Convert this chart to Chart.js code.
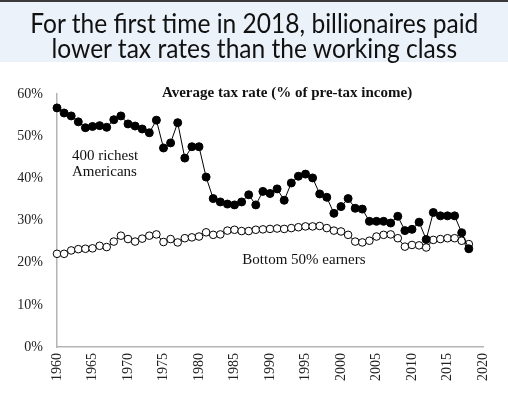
<!DOCTYPE html>
<html>
<head>
<meta charset="utf-8">
<script src="https://cdn.jsdelivr.net/npm/chart.js@4/dist/chart.umd.min.js"></script>
<style>
  body { margin: 0; background: #fff; }
  #wrap { width: 508px; height: 393px; position: relative; overflow: hidden; }
  .bar { height: 2px; background: #3a3a3a; }
  .band {
    height: 52px; padding-top: 8px; background: #ebf2fa;
    text-align: center; white-space: nowrap;
  }
  .band span {
    display: inline-block; transform: scaleX(0.91); transform-origin: center;
    font-family: Lato, sans-serif; font-size: 27px; line-height: 25px; color: #111;
  }
  #box { width: 508px; height: 331px; }
</style>
</head>
<body>
<div id="wrap">
  <div class="bar"></div>
  <div class="band"><span>For the first time in 2018, billionaires paid<br>lower tax rates than the working class</span></div>
  <div id="box"><canvas id="c"></canvas></div>
</div>
<script>
const years = []
for (let y = 1960; y <= 2018; y++) years.push(y)

const richest400 = [
  56.7, 55.5, 54.8, 53.4, 52.0, 52.3, 52.5, 52.1, 53.9, 54.8,
  52.9, 52.4, 51.7, 50.8, 53.8, 47.2, 48.4, 53.2, 44.8, 47.5,
  47.5, 40.3, 35.2, 34.4, 33.9, 33.7, 34.4, 36.1, 33.7, 36.9,
  36.4, 37.5, 34.8, 38.9, 40.5, 41.0, 40.1, 36.3, 35.5, 31.7,
  33.3, 35.2, 32.9, 32.7, 29.8, 29.8, 29.8, 29.4, 31.0, 27.6,
  27.9, 29.6, 25.5, 31.9, 31.1, 31.1, 31.1, 27.1, 23.3
]

const bottom50 = [
  22.1, 22.1, 22.9, 23.2, 23.3, 23.4, 24.0, 23.7, 25.0, 26.4,
  25.6, 25.0, 25.7, 26.4, 26.7, 24.9, 25.6, 24.8, 25.8, 26.0,
  26.2, 27.2, 26.6, 26.7, 27.6, 27.8, 27.5, 27.5, 27.8, 27.9,
  28.0, 28.1, 28.0, 28.2, 28.4, 28.6, 28.6, 28.7, 28.2, 27.6,
  27.4, 26.6, 25.0, 24.8, 25.2, 26.2, 26.6, 26.7, 25.8, 23.8,
  24.2, 24.1, 23.6, 25.4, 25.6, 25.8, 25.8, 25.2, 24.4
]

const axisTitle = 'Average tax rate (% of pre-tax income)'
const richLabel = ['400 richest', 'Americans']
const bottomLabel = 'Bottom 50% earners'

const serif = '"Liberation Serif", "DejaVu Serif", serif'

// text written inside the plot, placed with the scales
const textLabels = {
  id: 'textLabels',
  afterDatasetsDraw(chart) {
    const { ctx, scales: { x, y } } = chart
    ctx.save()
    ctx.fillStyle = '#111'
    ctx.textBaseline = 'middle'

    ctx.font = 'bold 15px ' + serif
    ctx.textAlign = 'center'
    ctx.fillText(axisTitle, x.getPixelForValue(1992.4), y.getPixelForValue(60.3))

    ctx.font = '15px ' + serif
    ctx.textAlign = 'left'
    ctx.fillText(richLabel[0], x.getPixelForValue(1962.1), y.getPixelForValue(45.2))
    ctx.fillText(richLabel[1], x.getPixelForValue(1962.1), y.getPixelForValue(41.5))
    ctx.fillText(bottomLabel, x.getPixelForValue(1986.1), y.getPixelForValue(20.5))
    ctx.restore()
  }
}

new Chart(document.getElementById('c'), {
  type: 'line',
  data: {
    datasets: [{
      label: '400 richest Americans',
      data: years.map((yr, i) => ({ x: yr, y: richest400[i] })),
      borderColor: '#000',
      backgroundColor: '#000',
      borderWidth: 1,
      pointRadius: 4,
      pointBorderWidth: 1,
      pointBorderColor: '#000',
      pointBackgroundColor: '#000',
      tension: 0,
      clip: false
    }, {
      label: 'Bottom 50% earners',
      data: years.map((yr, i) => ({ x: yr, y: bottom50[i] })),
      borderColor: '#000',
      borderWidth: 1,
      pointRadius: 3.8,
      pointBorderWidth: 1,
      pointBorderColor: '#000',
      pointBackgroundColor: '#fff',
      tension: 0,
      clip: false
    }]
  },
  options: {
    responsive: true,
    maintainAspectRatio: false,
    animation: false,
    layout: { padding: { top: 32, right: 25, left: 0, bottom: 0 } },
    plugins: {
      legend: { display: false },
      tooltip: { enabled: false }
    },
    scales: {
      x: {
        type: 'linear',
        min: 1960,
        max: 2020,
        grid: { display: false, drawTicks: false },
        border: { display: true, color: '#b4b4b4', width: 1.5 },
        ticks: {
          stepSize: 5,
          autoSkip: false,
          maxRotation: 90,
          minRotation: 90,
          padding: 6,
          color: '#222',
          font: { family: serif, size: 14 },
          callback: v => String(v)
        },
        afterFit: s => { s.height = 46 }
      },
      y: {
        min: 0,
        max: 60,
        grid: { display: false, drawTicks: false },
        border: { display: true, color: '#b4b4b4', width: 1.5 },
        ticks: {
          stepSize: 10,
          padding: 14,
          color: '#222',
          font: { family: serif, size: 14 },
          callback: v => v + '%'
        },
        afterFit: s => { s.width = 57 }
      }
    }
  },
  plugins: [textLabels]
})
</script>
</body>
</html>
